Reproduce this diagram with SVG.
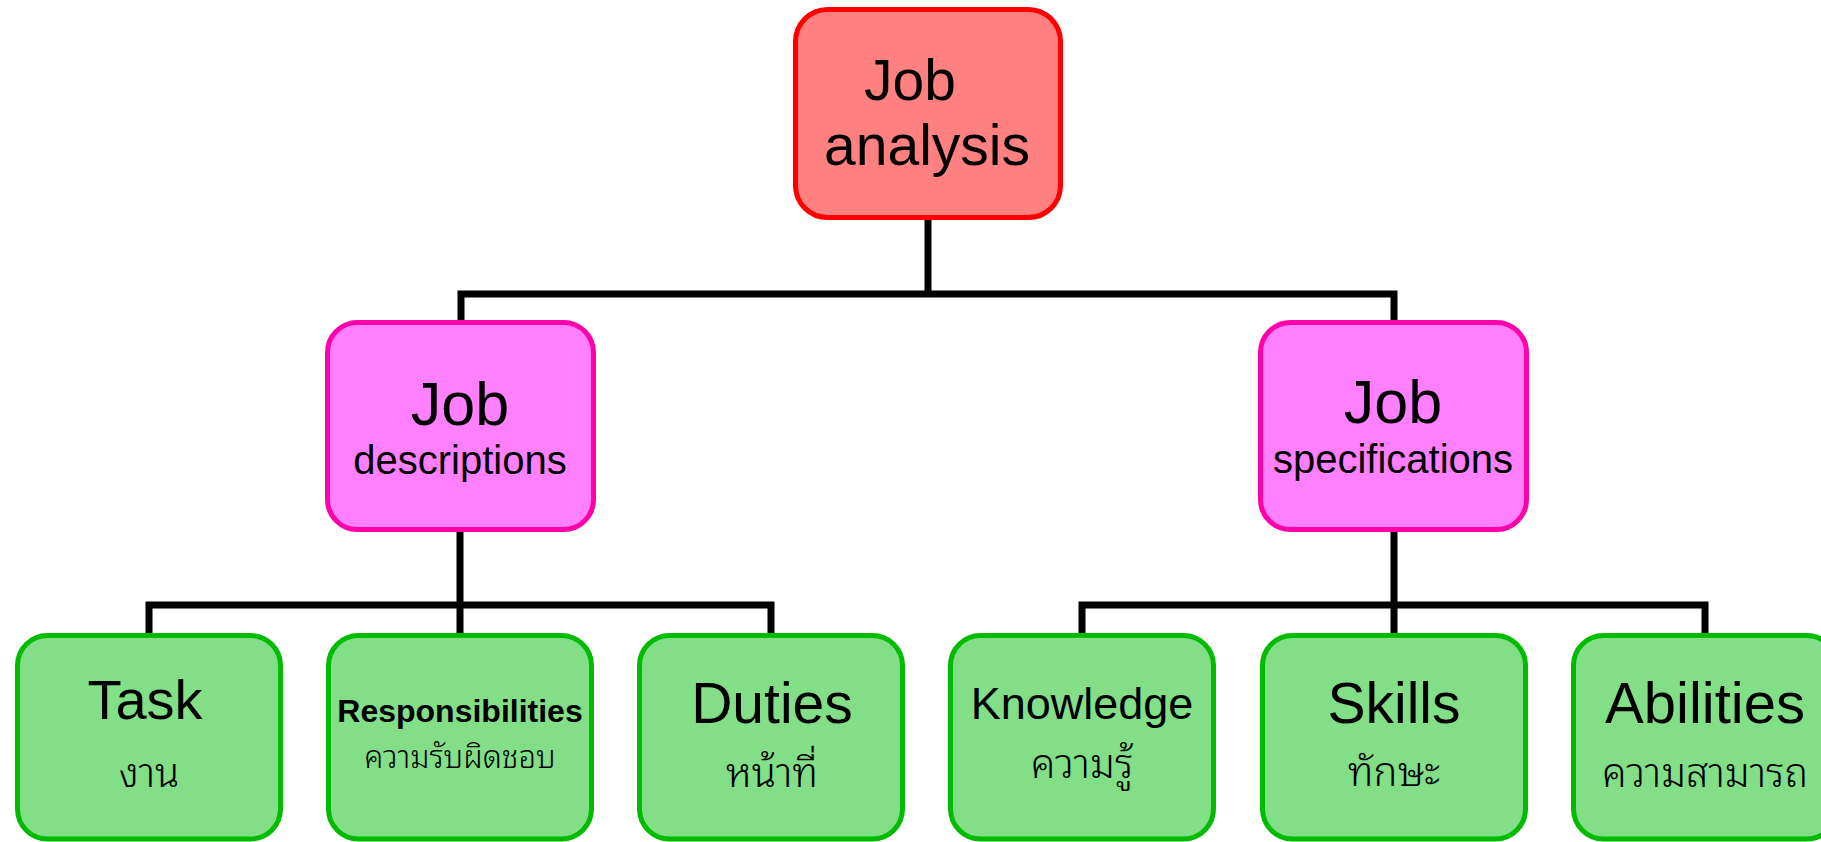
<svg xmlns="http://www.w3.org/2000/svg" width="1821" height="842" viewBox="0 0 1821 842">
<style>
.root{fill:#FF8080;stroke:#FF0000;stroke-width:5}
.mid{fill:#FF80FF;stroke:#FF00AA;stroke-width:5}
.leaf{fill:#82DF87;stroke:#00BB00;stroke-width:5}
.en{font-family:"Liberation Sans",Arial,sans-serif;fill:#000;text-anchor:middle}
.th{font-family:"Noto Sans Thai Looped","Noto Serif Thai","Norasi","Kinnari","Garuda","Loma","Noto Sans Thai","Noto Sans","DejaVu Sans",sans-serif;fill:#000;text-anchor:middle;font-size:40px;font-weight:300}
.conn{fill:none;stroke:#000;stroke-width:7;stroke-linejoin:miter;stroke-linecap:butt}
</style>
<rect width="1821" height="842" fill="#fff"/>
<g id="connectors">
<path class="conn" d="M928,220 V294"/>
<path class="conn" d="M461,320 V294 H1394 V320"/>
<path class="conn" d="M460,532 V633"/>
<path class="conn" d="M149,633 V605 H771 V633"/>
<path class="conn" d="M1394,532 V633"/>
<path class="conn" d="M1082,633 V605 H1705 V633"/>
</g>
<g id="job-analysis">
<rect class="root" x="795.5" y="9.5" width="265" height="208" rx="32"/>
<text class="en" x="910" y="100" font-size="57">Job</text>
<text class="en" x="927" y="165" font-size="57">analysis</text>
</g>
<g id="job-descriptions">
<rect class="mid" x="327.5" y="322.5" width="266" height="207" rx="30"/>
<text class="en" x="460" y="425" font-size="61">Job</text>
<text class="en" x="460" y="474" font-size="40">descriptions</text>
</g>
<g id="job-specifications">
<rect class="mid" x="1260.5" y="322.5" width="266" height="207" rx="30"/>
<text class="en" x="1393" y="423" font-size="61">Job</text>
<text class="en" x="1393" y="473" font-size="40">specifications</text>
</g>
<g id="task">
<rect class="leaf" x="17.5" y="635.5" width="263" height="203.5" rx="30"/>
<text class="en" x="145" y="719" font-size="56">Task</text>
<text class="th" x="149" y="787">งาน</text>
</g>
<g id="responsibilities">
<rect class="leaf" x="328.5" y="635.5" width="263" height="203.5" rx="30"/>
<text class="en" x="460" y="722" font-size="32" font-weight="bold">Responsibilities</text>
<text class="th" x="460" y="768" style="font-size:31px">ความรับผิดชอบ</text>
</g>
<g id="duties">
<rect class="leaf" x="639.5" y="635.5" width="263" height="203.5" rx="30"/>
<text class="en" x="772" y="723" font-size="57">Duties</text>
<text class="th" x="772" y="787">หน้าที่</text>
</g>
<g id="knowledge">
<rect class="leaf" x="950.5" y="635.5" width="263" height="203.5" rx="30"/>
<text class="en" x="1082" y="719" font-size="45">Knowledge</text>
<text class="th" x="1082" y="778">ความรู้</text>
</g>
<g id="skills">
<rect class="leaf" x="1262.5" y="635.5" width="263" height="203.5" rx="30"/>
<text class="en" x="1394" y="723" font-size="57">Skills</text>
<text class="th" x="1394" y="786">ทักษะ</text>
</g>
<g id="abilities">
<rect class="leaf" x="1573.5" y="635.5" width="263" height="203.5" rx="30"/>
<text class="en" x="1705" y="723" font-size="58">Abilities</text>
<text class="th" x="1705" y="787">ความสามารถ</text>
</g>
</svg>
